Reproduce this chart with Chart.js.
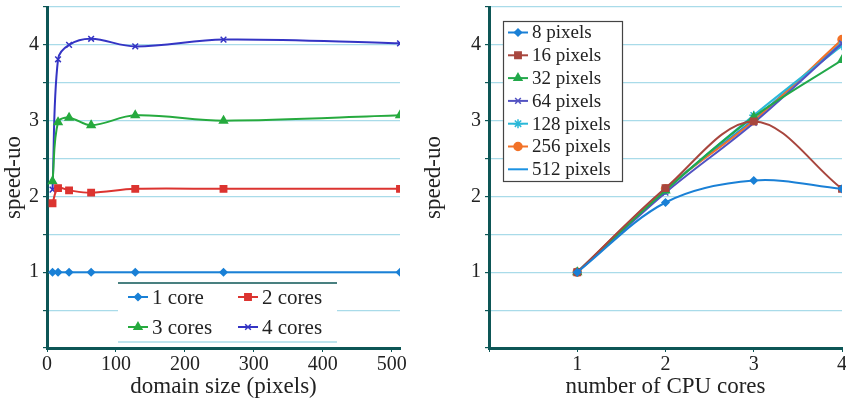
<!DOCTYPE html>
<html>
<head>
<meta charset="utf-8">
<script src="https://cdn.jsdelivr.net/npm/chart.js@4.4.1/dist/chart.umd.min.js"></script>
<style>
  html, body { margin: 0; padding: 0; background: #fff; overflow: hidden; }
  #wrap { position: relative; width: 846px; height: 401px; }
  .panel { position: absolute; top: 0; height: 401px; overflow: hidden; }
  #p1 { left: 0; width: 420px; }
  #p2 { left: 420px; width: 426px; }
</style>
</head>
<body>
<div id="wrap">
  <div class="panel" id="p1"><canvas id="chartDomain" width="420" height="401"></canvas></div>
  <div class="panel" id="p2"><canvas id="chartCores" width="428" height="401"></canvas></div>
</div>
<script>
// left chart: speed-up vs domain size
const domainSizes = [8, 16, 32, 64, 128, 256, 512];
const domainTicks = [0, 100, 200, 300, 400, 500];
const oneCore = [1, 1, 1, 1, 1, 1, 1];
const twoCores = [1.91, 2.11, 2.08, 2.05, 2.1, 2.1, 2.1];
const threeCores = [2.2, 2.98, 3.04, 2.94, 3.07, 3.0, 3.07];
const fourCores = [2.09, 3.81, 4.0, 4.08, 3.98, 4.07, 4.02];

// right chart: speed-up vs number of cores
const coreCounts = [1, 2, 3, 4];
const coreTicks = [0, 1, 2, 3, 4];
const px8 = [1, 1.92, 2.21, 2.1];
const px16 = [1, 2.11, 2.99, 2.1];
const px32 = [1, 2.08, 3.05, 3.8];
const px64 = [1, 2.05, 2.97, 4.02];
const px128 = [1, 2.08, 3.07, 3.99];
const px256 = [1, 2.1, 3.0, 4.07];
const px512 = [1, 2.1, 3.02, 4.03];

const SERIF = '"Liberation Serif", "DejaVu Serif", serif';
const AXIS = '#0d5656';
const GRID = '#a9dbe9';
const TEXT = '#222';

function xy(xs, ys) {
    return xs.map(function (x, i) { return { x: x, y: ys[i] }; });
}

function series(label, xs, ys, color, style, radius) {
    return {
        label: label,
        data: xy(xs, ys),
        borderColor: color,
        backgroundColor: color,
        borderWidth: 2,
        pointStyle: style,
        pointRadius: style ? radius : 0,
        pointBorderWidth: 1.5,
        tension: 0.35,
    };
}

// legend drawn inside the plot, as in the original figure
const boxLegend = {
    id: 'boxLegend',
    afterDraw: function (chart, args, o) {
        const ctx = chart.ctx;
        ctx.save();
        ctx.fillStyle = '#fff';
        ctx.fillRect(o.box[0], o.box[1], o.box[2], o.box[3]);
        if (o.frame) {
            ctx.strokeStyle = '#444';
            ctx.lineWidth = 1.2;
            ctx.strokeRect(o.box[0] + 0.5, o.box[1] + 0.5, o.box[2], o.box[3]);
        } else {
            ctx.strokeStyle = AXIS;
            ctx.lineWidth = 1.5;
            ctx.beginPath();
            ctx.moveTo(o.box[0], o.box[1]);
            ctx.lineTo(o.box[0] + o.box[2], o.box[1]);
            ctx.stroke();
            ctx.strokeStyle = GRID;
            ctx.beginPath();
            ctx.moveTo(o.box[0], o.box[1] + o.box[3]);
            ctx.lineTo(o.box[0] + o.box[2], o.box[1] + o.box[3]);
            ctx.stroke();
        }
        ctx.font = o.font;
        ctx.textBaseline = 'middle';
        chart.data.datasets.forEach(function (ds, i) {
            const col = i % o.cols, row = Math.floor(i / o.cols);
            const x = o.x + col * o.colW, y = o.y + row * o.rowH;
            ctx.strokeStyle = ds.borderColor;
            ctx.lineWidth = 2;
            ctx.beginPath();
            ctx.moveTo(x, y);
            ctx.lineTo(x + o.lineW, y);
            ctx.stroke();
            if (ds.pointStyle) {
                ctx.fillStyle = ds.backgroundColor;
                ctx.lineWidth = 1.5;
                Chart.helpers.drawPoint(ctx, { pointStyle: ds.pointStyle, radius: ds.pointRadius, rotation: 0, borderWidth: 1.5 }, x + o.lineW / 2, y);
            }
            ctx.fillStyle = TEXT;
            ctx.fillText(ds.label, x + o.lineW + 4, y + 1);
        });
        ctx.restore();
    },
};

function yScale(width) {
    return {
        min: 0,
        max: 4.5,
        afterFit: function (s) { s.width = width; s.paddingTop = 7; s.paddingBottom = 0; },
        ticks: {
            stepSize: 0.5,
            color: TEXT,
            padding: 4,
            font: { family: SERIF, size: 20 },
            callback: function (v) { return (v > 0 && Number.isInteger(v)) ? String(v) : ''; },
        },
        grid: { color: GRID, lineWidth: 1.2, tickColor: AXIS, tickLength: 4 },
        border: { color: AXIS, width: 3 },
        title: { display: true, text: 'speed-uo', color: TEXT, font: { family: SERIF, size: 23 }, padding: 0 },
    };
}

function xScale(min, max, title, tickValues, rightPad, labelFn) {
    return {
        type: 'linear',
        min: min,
        max: max,
        afterFit: function (s) { s.height = 53; s.paddingLeft = 0; s.paddingRight = rightPad; },
        afterBuildTicks: function (s) { s.ticks = tickValues.map(function (v) { return { value: v }; }); },
        ticks: { color: TEXT, padding: 1, font: { family: SERIF, size: 20 }, callback: labelFn },
        grid: { drawOnChartArea: false, tickColor: AXIS, tickLength: 4 },
        border: { color: AXIS, width: 3 },
        title: { display: true, text: title, color: TEXT, font: { family: SERIF, size: 23 }, padding: { top: 0, bottom: 0 } },
    };
}

new Chart(document.getElementById('chartDomain'), {
    type: 'line',
    data: {
        datasets: [
            series('1 core', domainSizes, oneCore, '#1a80d6', 'rectRot', 3.5),
            series('2 cores', domainSizes, twoCores, '#dc3430', 'rect', 4.5),
            series('3 cores', domainSizes, threeCores, '#26aa3e', 'triangle', 4.5),
            series('4 cores', domainSizes, fourCores, '#3434c4', 'crossRot', 4),
        ],
    },
    options: {
        responsive: false,
        animation: false,
        layout: { padding: 0 },
        plugins: {
            legend: { display: false },
            tooltip: { enabled: false },
            boxLegend: { box: [118, 283, 219, 59], frame: false, x: 128, y: 297, cols: 2, colW: 110, rowH: 30, lineW: 20, font: '21px ' + SERIF },
        },
        scales: {
            x: xScale(0, 512, 'domain size (pixels)', domainTicks, 20, function (v) { return String(v); }),
            y: yScale(47),
        },
    },
    plugins: [boxLegend],
});

new Chart(document.getElementById('chartCores'), {
    type: 'line',
    data: {
        datasets: [
            series('8 pixels', coreCounts, px8, '#1a80d6', 'rectRot', 3.5),
            series('16 pixels', coreCounts, px16, '#a8463e', 'rect', 4.5),
            series('32 pixels', coreCounts, px32, '#22a84a', 'triangle', 4.5),
            series('64 pixels', coreCounts, px64, '#5252c2', 'crossRot', 4),
            series('128 pixels', coreCounts, px128, '#2ab8d8', 'star', 4.5),
            series('256 pixels', coreCounts, px256, '#f27228', 'circle', 4),
            series('512 pixels', coreCounts, px512, '#1c92e2', false, 0),
        ],
    },
    options: {
        responsive: false,
        animation: false,
        layout: { padding: 0 },
        plugins: {
            legend: { display: false },
            tooltip: { enabled: false },
            boxLegend: { box: [83, 21, 119, 160], frame: true, x: 88, y: 32.5, cols: 1, colW: 0, rowH: 22.8, lineW: 20, font: '19px ' + SERIF },
        },
        scales: {
            x: xScale(0, 4, 'number of CPU cores', coreTicks, 5, function (v) { return v > 0 ? String(v) : ''; }),
            y: yScale(69),
        },
    },
    plugins: [boxLegend],
});
</script>
</body>
</html>
